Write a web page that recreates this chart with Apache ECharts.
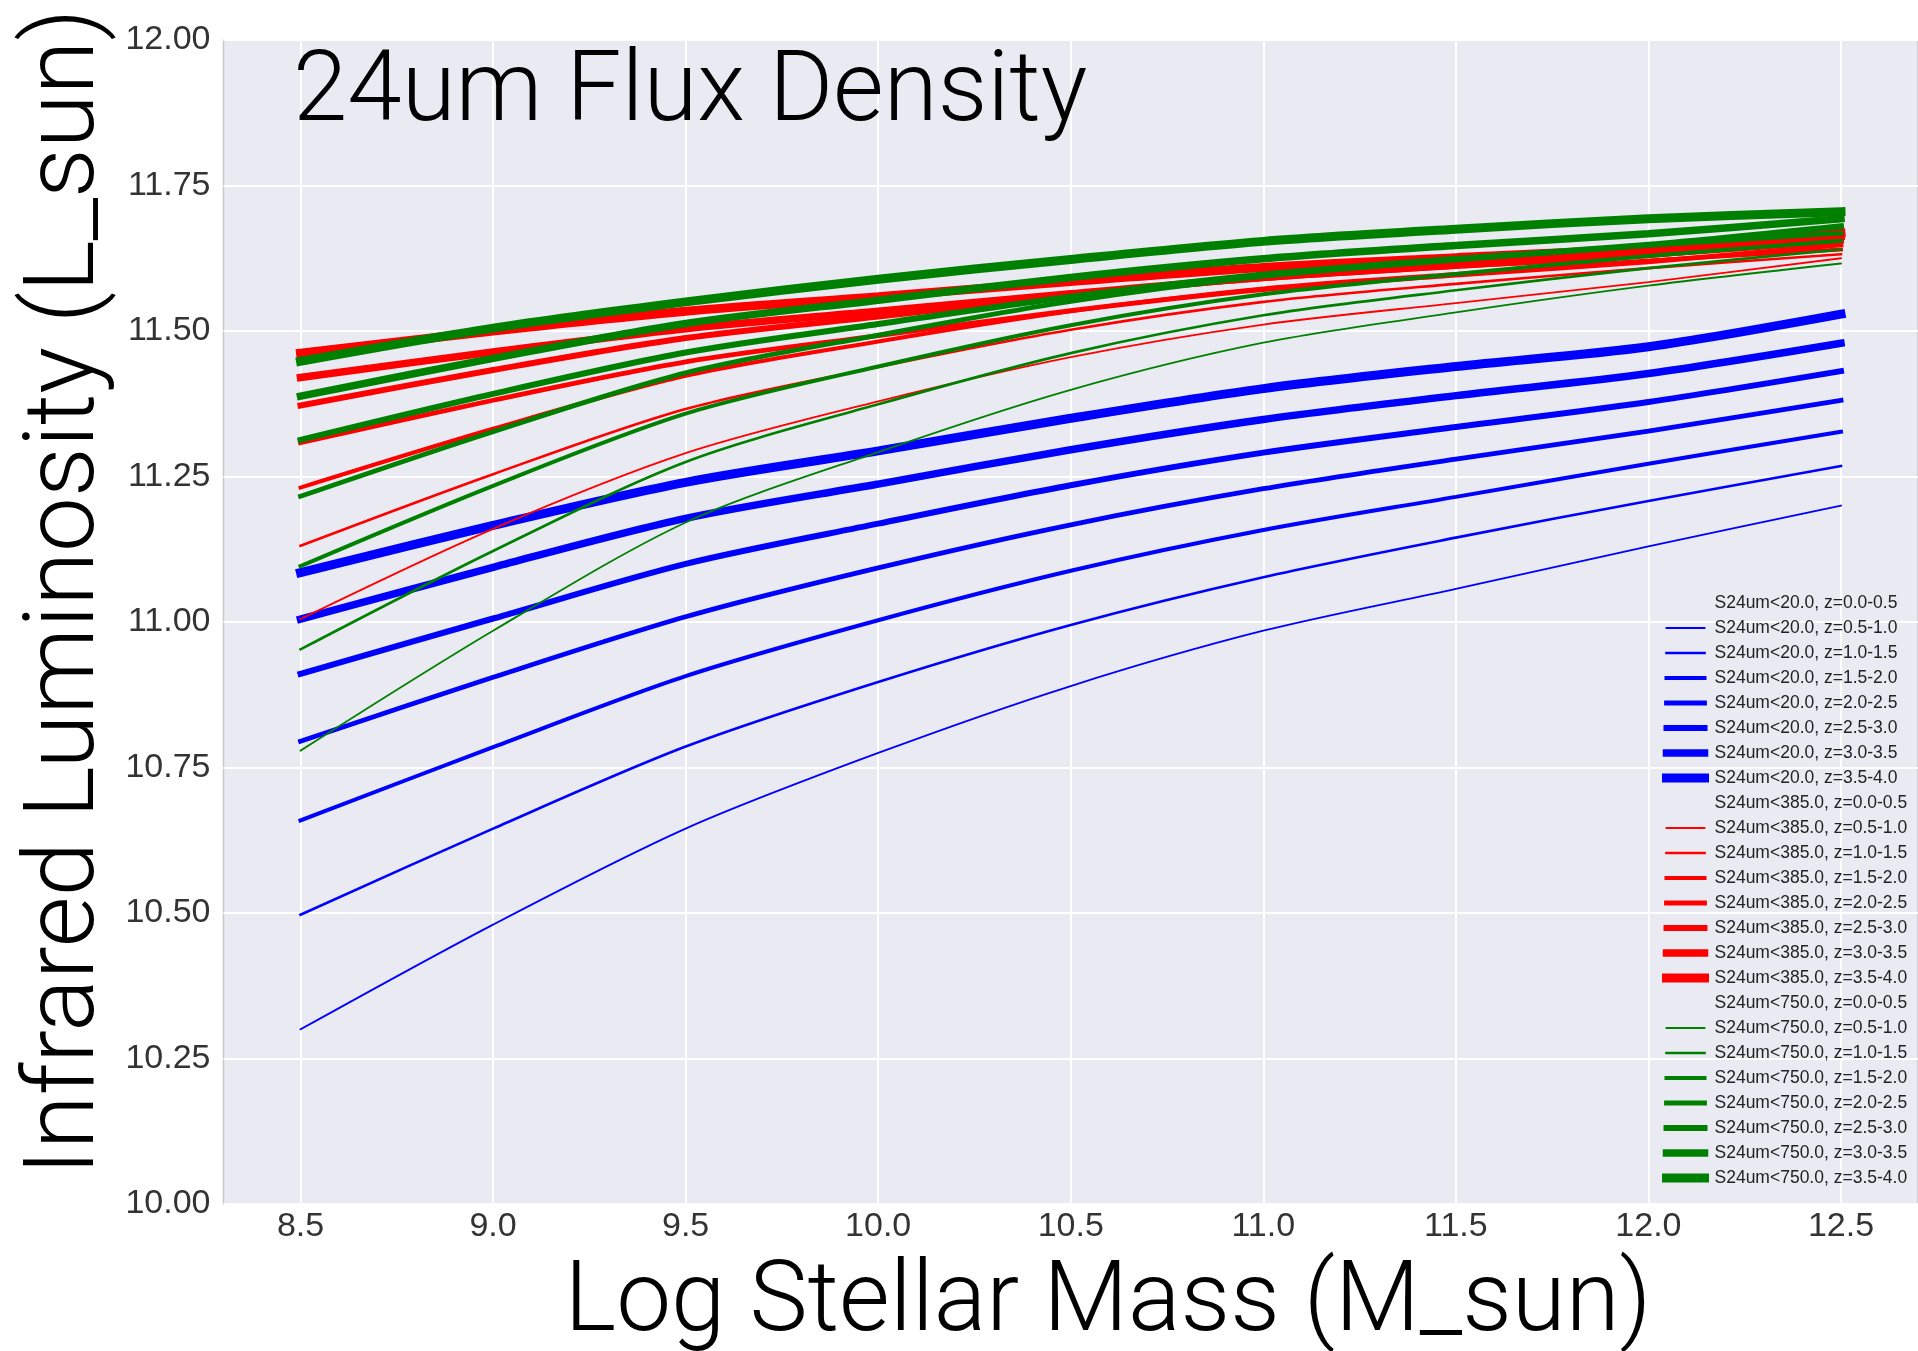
<!DOCTYPE html>
<html><head><meta charset="utf-8">
<script src="https://cdn.jsdelivr.net/npm/echarts@6/dist/echarts.min.js"></script>
<style>html,body{margin:0;padding:0;background:#fff}#c{width:1918px;height:1351px}</style>
</head><body><div id="c"></div>
<script>
// ---- data ----
const masses = [8.5, 9.0, 9.5, 10.0, 10.5, 11.0, 11.5, 12.0, 12.5];
const xTickValues = [8.5, 9.0, 9.5, 10.0, 10.5, 11.0, 11.5, 12.0, 12.5];
const zBins = ['0.0-0.5', '0.5-1.0', '1.0-1.5', '1.5-2.0', '2.0-2.5', '2.5-3.0', '3.0-3.5', '3.5-4.0'];
const fluxCuts = ['20.0', '385.0', '750.0'];

// S24um < 20.0 (blue)
const s20_z00_05 = [];
const s20_z05_10 = [10.30, 10.48, 10.645, 10.775, 10.89, 10.985, 11.057, 11.13, 11.20];
const s20_z10_15 = [10.497, 10.645, 10.786, 10.897, 10.995, 11.077, 11.145, 11.208, 11.268];
const s20_z15_20 = [10.659, 10.785, 10.907, 11.003, 11.088, 11.158, 11.215, 11.272, 11.327];
const s20_z20_25 = [10.795, 10.905, 11.009, 11.093, 11.167, 11.229, 11.28, 11.328, 11.381];
const s20_z25_30 = [10.911, 11.006, 11.10, 11.169, 11.235, 11.291, 11.335, 11.378, 11.431];
const s20_z30_35 = [11.005, 11.094, 11.178, 11.237, 11.296, 11.348, 11.389, 11.427, 11.479];
const s20_z35_40 = [11.085, 11.166, 11.24, 11.294, 11.35, 11.401, 11.439, 11.473, 11.529];

// S24um < 385.0 (red)
const s385_z00_05 = [];
const s385_z05_10 = [11.005, 11.16, 11.29, 11.379, 11.455, 11.511, 11.548, 11.584, 11.625];
const s385_z10_15 = [11.131, 11.254, 11.366, 11.438, 11.502, 11.55, 11.581, 11.608, 11.632];
const s385_z15_20 = [11.231, 11.332, 11.423, 11.482, 11.534, 11.573, 11.598, 11.621, 11.64];
const s385_z20_25 = [11.308, 11.381, 11.447, 11.492, 11.535, 11.571, 11.596, 11.619, 11.648];
const s385_z25_30 = [11.372, 11.433, 11.488, 11.525, 11.561, 11.591, 11.612, 11.631, 11.655];
const s385_z30_35 = [11.42, 11.464, 11.504, 11.534, 11.564, 11.592, 11.613, 11.632, 11.662];
const s385_z35_40 = [11.462, 11.5, 11.534, 11.559, 11.585, 11.609, 11.626, 11.642, 11.668];

// S24um < 750.0 (green)
const s750_z00_05 = [];
const s750_z05_10 = [10.779, 10.985, 11.171, 11.292, 11.399, 11.48, 11.532, 11.578, 11.616];
const s750_z10_15 = [10.953, 11.122, 11.275, 11.374, 11.462, 11.527, 11.57, 11.608, 11.64];
const s750_z15_20 = [11.096, 11.234, 11.358, 11.439, 11.51, 11.563, 11.598, 11.629, 11.655];
const s750_z20_25 = [11.216, 11.327, 11.428, 11.493, 11.551, 11.594, 11.622, 11.647, 11.668];
const s750_z25_30 = [11.313, 11.392, 11.463, 11.512, 11.559, 11.597, 11.624, 11.648, 11.68];
const s750_z30_35 = [11.388, 11.453, 11.513, 11.553, 11.592, 11.624, 11.647, 11.667, 11.693];
const s750_z35_40 = [11.448, 11.505, 11.55, 11.589, 11.623, 11.654, 11.675, 11.693, 11.705];

// ---- styling ----
const fluxColors = ['#0000ff', '#ff0000', '#008000'];
const zLineWidths = [0, 1.8, 2.6, 4, 4.8, 6, 7.5, 9];
const groups = [
  [s20_z00_05, s20_z05_10, s20_z10_15, s20_z15_20, s20_z20_25, s20_z25_30, s20_z30_35, s20_z35_40],
  [s385_z00_05, s385_z05_10, s385_z10_15, s385_z15_20, s385_z20_25, s385_z25_30, s385_z30_35, s385_z35_40],
  [s750_z00_05, s750_z05_10, s750_z10_15, s750_z15_20, s750_z20_25, s750_z25_30, s750_z30_35, s750_z35_40]
];

const series = [];
const legendNames = [];
groups.forEach((arrs, gi) => {
  arrs.forEach((vals, zi) => {
    const name = 'S24um<' + fluxCuts[gi] + ', z=' + zBins[zi];
    legendNames.push(name);
    series.push({
      name: name,
      type: 'line',
      data: vals.map((v, i) => [masses[i], v]),
      showSymbol: false,
      symbol: 'none',
      smooth: 0.3,
      silent: true,
      color: fluxColors[gi],
      lineStyle: {
        color: fluxColors[gi],
        width: zLineWidths[zi],
        opacity: zLineWidths[zi] > 0 ? 1 : 0,
        cap: 'square'
      }
    });
  });
});

const chart = echarts.init(document.getElementById('c'), null, {renderer: 'canvas'});
const bigFont = '"Roboto", "Liberation Sans", sans-serif';
chart.setOption({
  animation: false,
  backgroundColor: '#ffffff',
  grid: {
    left: 223.5, right: -9.5, top: 40, bottom: 147,
    show: true, backgroundColor: '#EAEAF2', borderColor: '#c8c8cc', borderWidth: 1.5
  },
  xAxis: {
    type: 'value', min: 8.3, max: 12.7,
    axisLine: {show: false},
    axisTick: {show: false, customValues: xTickValues},
    axisLabel: {
      customValues: xTickValues,
      formatter: v => v.toFixed(1),
      color: '#333', fontSize: 34, fontFamily: '"Liberation Sans", Arial, sans-serif', margin: 6
    },
    splitLine: {show: true, lineStyle: {color: '#ffffff', width: 2}}
  },
  yAxis: {
    type: 'value', min: 10, max: 12, interval: 0.25,
    axisLine: {show: false},
    axisTick: {show: false},
    axisLabel: {
      formatter: v => v.toFixed(2),
      color: '#333', fontSize: 34, fontFamily: '"Liberation Sans", Arial, sans-serif', margin: 13
    },
    splitLine: {show: true, lineStyle: {color: '#ffffff', width: 2}}
  },
  legend: {
    data: legendNames,
    orient: 'vertical',
    left: 1657, top: 589,
    itemWidth: 38, itemHeight: 14, itemGap: 7,
    selectedMode: false,
    itemStyle: {color: 'rgba(0,0,0,0)', borderWidth: 0, opacity: 0},
    lineStyle: {width: 'inherit', cap: 'square'},
    textStyle: {color: '#222', fontSize: 17.5, lineHeight: 18, fontFamily: '"Liberation Sans", Arial, sans-serif', padding: [0, 0, 0, 5]}
  },
  graphic: [
    {type: 'text', x: 293, y: 46, z: 100, style: {text: '24um Flux Density', font: '300 98px ' + bigFont, fill: '#000', align: 'left', verticalAlign: 'top'}},
    {type: 'text', x: 1108, y: 1305, z: 100, style: {text: 'Log Stellar Mass (M_sun)', font: '300 98px ' + bigFont, fill: '#000', align: 'center', verticalAlign: 'middle'}},
    {type: 'text', x: 68, y: 592, z: 100, rotation: Math.PI / 2, style: {text: 'Infrared Luminosity (L_sun)', font: '300 98px ' + bigFont, fill: '#000', align: 'center', verticalAlign: 'middle'}}
  ],
  series: series
});
</script>
</body></html>
